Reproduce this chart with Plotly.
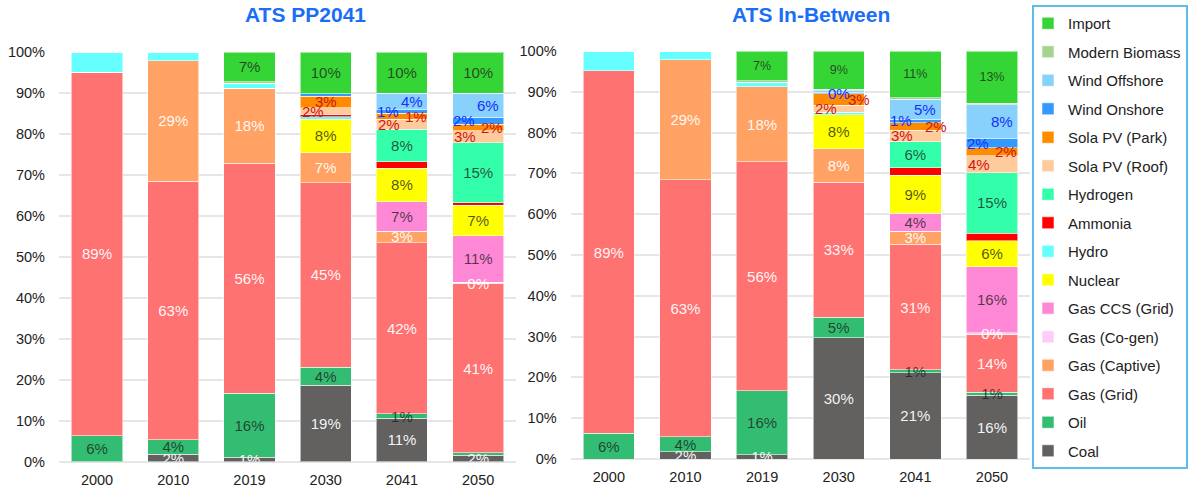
import plotly.graph_objects as go

# ---------------------------------------------------------------------------
# Data: generation share (%) by source, for each scenario and year
# ---------------------------------------------------------------------------
years = ["2000", "2010", "2019", "2030", "2041", "2050"]

series = [
    "Coal", "Oil", "Gas (Grid)", "Gas (Captive)", "Gas (Co-gen)",
    "Gas CCS (Grid)", "Nuclear", "Hydro", "Ammonia", "Hydrogen",
    "Sola PV (Roof)", "Sola PV (Park)", "Wind Onshore", "Wind Offshore",
    "Modern Biomass", "Import",
]

# Scenario "ATS PP2041"
pp_coal        = [0.0, 1.8, 1.1, 18.7, 10.6, 1.6]
pp_oil         = [6.3, 3.6, 15.6, 4.4, 1.1, 0.6]
pp_gas_grid    = [88.8, 63.1, 56.1, 45.0, 41.8, 41.2]
pp_gas_captive = [0.0, 29.4, 18.4, 7.3, 2.8, 0.0]
pp_gas_cogen   = [0.0, 0.0, 0.0, 0.0, 0.0, 0.4]
pp_gas_ccs     = [0.0, 0.0, 0.0, 0.0, 7.2, 11.4]
pp_nuclear     = [0.0, 0.0, 0.0, 8.2, 8.1, 7.4]
pp_hydro       = [4.9, 2.1, 1.2, 0.6, 0.0, 0.0]
pp_ammonia     = [0.0, 0.0, 0.0, 0.6, 1.6, 0.6]
pp_hydrogen    = [0.0, 0.0, 0.0, 0.0, 8.0, 14.6]
pp_pv_roof     = [0.0, 0.0, 0.0, 1.6, 2.4, 3.0]
pp_pv_park     = [0.0, 0.0, 0.0, 2.8, 1.4, 1.6]
pp_wind_on     = [0.0, 0.0, 0.0, 0.6, 0.9, 1.7]
pp_wind_off    = [0.0, 0.0, 0.0, 0.0, 4.0, 5.8]
pp_biomass     = [0.0, 0.0, 0.3, 0.0, 0.0, 0.0]
pp_import      = [0.0, 0.0, 7.3, 10.2, 10.1, 10.1]

# Scenario "ATS In-Between"
ib_coal        = [0.0, 1.8, 1.1, 29.7, 21.2, 15.6]
ib_oil         = [6.3, 3.6, 15.6, 5.0, 0.7, 0.8]
ib_gas_grid    = [88.8, 63.1, 56.1, 33.1, 30.7, 14.2]
ib_gas_captive = [0.0, 29.4, 18.4, 8.2, 3.2, 0.0]
ib_gas_cogen   = [0.0, 0.0, 0.0, 0.0, 0.0, 0.4]
ib_gas_ccs     = [0.0, 0.0, 0.0, 0.0, 4.4, 16.1]
ib_nuclear     = [0.0, 0.0, 0.0, 8.4, 9.4, 6.4]
ib_hydro       = [4.9, 2.1, 1.2, 0.6, 0.0, 0.0]
ib_ammonia     = [0.0, 0.0, 0.0, 0.0, 1.8, 1.8]
ib_hydrogen    = [0.0, 0.0, 0.0, 0.0, 6.4, 14.9]
ib_pv_roof     = [0.0, 0.0, 0.0, 1.7, 2.8, 4.1]
ib_pv_park     = [0.0, 0.0, 0.0, 2.8, 1.8, 2.0]
ib_wind_on     = [0.0, 0.0, 0.0, 0.4, 0.9, 2.2]
ib_wind_off    = [0.0, 0.0, 0.0, 0.3, 4.9, 8.3]
ib_biomass     = [0.0, 0.0, 0.3, 0.4, 0.4, 0.4]
ib_import      = [0.0, 0.0, 7.3, 9.4, 11.4, 12.8]

scenario_titles = ["ATS PP2041", "ATS In-Between"]

# ---------------------------------------------------------------------------
# Assemble per-scenario tables (stack order bottom -> top)
# ---------------------------------------------------------------------------
pp_values = [pp_coal, pp_oil, pp_gas_grid, pp_gas_captive, pp_gas_cogen,
             pp_gas_ccs, pp_nuclear, pp_hydro, pp_ammonia, pp_hydrogen,
             pp_pv_roof, pp_pv_park, pp_wind_on, pp_wind_off, pp_biomass,
             pp_import]
ib_values = [ib_coal, ib_oil, ib_gas_grid, ib_gas_captive, ib_gas_cogen,
             ib_gas_ccs, ib_nuclear, ib_hydro, ib_ammonia, ib_hydrogen,
             ib_pv_roof, ib_pv_park, ib_wind_on, ib_wind_off, ib_biomass,
             ib_import]
tables = [dict(zip(series, pp_values)), dict(zip(series, ib_values))]

colors = {
    "Coal": "#626160",
    "Oil": "#33bd72",
    "Gas (Grid)": "#ff7272",
    "Gas (Captive)": "#ffa263",
    "Gas (Co-gen)": "#ffccf7",
    "Gas CCS (Grid)": "#ff88d6",
    "Nuclear": "#ffff00",
    "Hydro": "#66ffff",
    "Ammonia": "#ff0000",
    "Hydrogen": "#33ffaa",
    "Sola PV (Roof)": "#ffca9c",
    "Sola PV (Park)": "#ff8c00",
    "Wind Onshore": "#3399ff",
    "Wind Offshore": "#88d1fd",
    "Modern Biomass": "#a6d48f",
    "Import": "#36d536",
}

DARK = "rgba(30,30,30,0.78)"
LIGHT = "rgba(255,255,255,0.95)"
label_color = {
    "Coal": LIGHT, "Oil": DARK, "Gas (Grid)": LIGHT, "Gas (Captive)": LIGHT,
    "Gas (Co-gen)": LIGHT, "Gas CCS (Grid)": DARK, "Nuclear": DARK,
    "Hydrogen": DARK, "Import": DARK,
}
# sources whose share is written beside the bar in coloured text
side_labels = {
    "Sola PV (Roof)": ("#d01515", -13),
    "Sola PV (Park)": ("#d01515", 14),
    "Wind Onshore": ("#1530ff", -14),
    "Wind Offshore": ("#1530ff", 10),
}
side_shift_override = {
    (0, "2030", "Sola PV (Park)"): 0,
    (1, "2030", "Wind Onshore"): 0,
    (1, "2030", "Sola PV (Park)"): 20,
    (1, "2041", "Sola PV (Park)"): 21,
}
hidden_labels = {
    (0, "2030", "Wind Onshore"),
    (0, "2050", "Oil"),
    (1, "2030", "Wind Offshore"),
}

FONT = "Liberation Sans, Arial, sans-serif"

fig = go.Figure()
annotations = []

# axes: bars on x/y and x2/y2; value labels on transparent copies drawn on
# overlaying axes so that every label sits above all bar segments
bar_axes = [("x", "y"), ("x2", "y2")]
text_axes = [("x3", "y3"), ("x4", "y4")]

for s_idx, table in enumerate(tables):
    xa, ya = bar_axes[s_idx]
    xt, yt = text_axes[s_idx]
    base = [0.0] * len(years)
    for k, name in enumerate(series):
        vals = table[name]
        fig.add_trace(go.Bar(
            x=years, y=vals, name=name, xaxis=xa, yaxis=ya,
            marker=dict(color=colors[name],
                        line=dict(color="rgba(255,255,255,0.55)", width=1)),
            legendgroup=name, legendrank=100 - k, showlegend=(s_idx == 0),
            hoverinfo="name+y",
        ))
        texts = []
        for yr, v in zip(years, vals):
            show = (name in label_color and v > 0
                    and (s_idx, yr, name) not in hidden_labels)
            texts.append(f"{round(v)}%" if show else "")
        size = 12.5 if (s_idx == 1 and name == "Import") else 15
        fig.add_trace(go.Bar(
            x=years, y=vals, name=name, xaxis=xt, yaxis=yt,
            marker=dict(color="rgba(0,0,0,0)", line=dict(width=0)),
            text=texts, textposition="inside", insidetextanchor="middle",
            textangle=0, constraintext="none",
            textfont=dict(family=FONT, size=size,
                          color=label_color.get(name, DARK)),
            showlegend=False, hoverinfo="skip",
        ))
        if name in side_labels:
            col, shift = side_labels[name]
            for i, (yr, v) in enumerate(zip(years, vals)):
                if v > 0 and (s_idx, yr, name) not in hidden_labels:
                    annotations.append(dict(
                        # category index on the x axis
                        x=i, y=base[i] + v / 2, xref=xa, yref=ya,
                        text=f"{round(v)}%", showarrow=False,
                        xshift=side_shift_override.get((s_idx, yr, name), shift),
                        font=dict(family=FONT, size=15, color=col),
                    ))
        base = [b + v for b, v in zip(base, vals)]

# scenario titles
for title, xc in zip(scenario_titles, [305.5 / 1192, 811 / 1192]):
    annotations.append(dict(
        x=xc, y=1 - 14 / 490, xref="paper", yref="paper",
        text=f"<b>{title}</b>", showarrow=False, xanchor="center",
        yanchor="middle",
        font=dict(family=FONT, size=21, color="#1a6ef5"),
    ))

yaxis_common = dict(
    range=[0, 100], dtick=10, ticksuffix="%", showgrid=True,
    gridcolor="#e6e6e6", gridwidth=2, zeroline=True, zerolinecolor="#e6e6e6",
    zerolinewidth=2, showline=False, ticks="outside", ticklen=10,
    tickcolor="rgba(0,0,0,0)", automargin=False,
    tickfont=dict(family=FONT, size=14.5, color="#222"), fixedrange=True,
)
xaxis_common = dict(
    type="category", categoryorder="array", categoryarray=years,
    range=[-0.5, 5.5], showgrid=False, showline=False,
    ticks="outside", ticklen=5, tickcolor="rgba(0,0,0,0)", automargin=False,
    tickfont=dict(family=FONT, size=14.5, color="#222"), fixedrange=True,
)
overlay_x = dict(type="category", categoryorder="array", categoryarray=years,
                 range=[-0.5, 5.5], visible=False, fixedrange=True)
overlay_y = dict(range=[0, 100], visible=False, fixedrange=True)

left_x = [58.9 / 1192, 516.3 / 1192]
left_y = [(490 - 461.7) / 490, (490 - 52) / 490]
right_x = [570.5 / 1192, 1030.3 / 1192]
right_y = [(490 - 459) / 490, (490 - 51) / 490]

fig.update_layout(
    width=1192, height=490,
    margin=dict(l=0, r=0, t=0, b=0, autoexpand=False),
    paper_bgcolor="white", plot_bgcolor="white",
    barmode="stack", bargap=0.33,
    xaxis=dict(domain=left_x, anchor="y", **xaxis_common),
    yaxis=dict(domain=left_y, anchor="x", **yaxis_common),
    xaxis2=dict(domain=right_x, anchor="y2", **xaxis_common),
    yaxis2=dict(domain=right_y, anchor="x2", **yaxis_common),
    xaxis3=dict(domain=left_x, anchor="y3", overlaying="x", **overlay_x),
    yaxis3=dict(domain=left_y, anchor="x3", overlaying="y", **overlay_y),
    xaxis4=dict(domain=right_x, anchor="y4", overlaying="x2", **overlay_x),
    yaxis4=dict(domain=right_y, anchor="x4", overlaying="y2", **overlay_y),
    legend=dict(
        x=1032 / 1192, y=1 - 5 / 490, xanchor="left", yanchor="top",
        traceorder="grouped", tracegroupgap=6, indentation=-6,
        bordercolor="#5bbde8", borderwidth=2, bgcolor="white",
        font=dict(family=FONT, size=15, color="#222"),
        itemclick=False, itemdoubleclick=False,
    ),
    annotations=annotations,
    showlegend=True,
)

fig.write_html("out.html")
